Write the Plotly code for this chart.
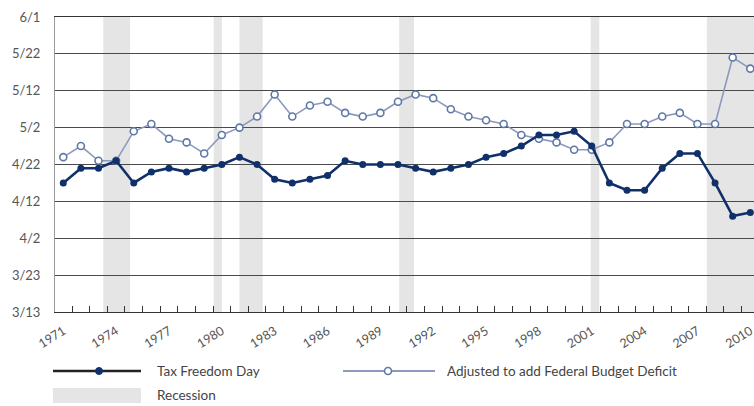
import plotly.graph_objects as go

# ---------------- data ----------------
years = list(range(1971, 2011))

tax_freedom_day = [
    "4/17", "4/21", "4/21", "4/23", "4/17", "4/20", "4/21", "4/20", "4/21", "4/22",
    "4/24", "4/22", "4/18", "4/17", "4/18", "4/19", "4/23", "4/22", "4/22", "4/22",
    "4/21", "4/20", "4/21", "4/22", "4/24", "4/25", "4/27", "4/30", "4/30", "5/1",
    "4/27", "4/17", "4/15", "4/15", "4/21", "4/25", "4/25", "4/17", "4/8", "4/9",
]

adjusted_deficit = [
    "4/24", "4/27", "4/23", "4/23", "5/1", "5/3", "4/29", "4/28", "4/25", "4/30",
    "5/2", "5/5", "5/11", "5/5", "5/8", "5/9", "5/6", "5/5", "5/6", "5/9",
    "5/11", "5/10", "5/7", "5/5", "5/4", "5/3", "4/30", "4/29", "4/28", "4/26",
    "4/26", "4/28", "5/3", "5/3", "5/5", "5/6", "5/3", "5/3", "5/21", "5/18",
]

y_tick_labels = ["3/13", "3/23", "4/2", "4/12", "4/22", "5/2", "5/12", "5/22", "6/1"]
x_tick_years = years[::3]

recession_start = [1973.27, 1979.54, 1981.0, 1990.07, 2000.94, 2007.53]
recession_end = [1974.79, 1980.0, 1982.32, 1990.91, 2001.43, 2010.5]

series_names = ["Tax Freedom Day", "Adjusted to add Federal Budget Deficit", "Recession"]

BASE_YEAR = 2011


def to_date(md):
    m, d = md.split("/")
    return f"{BASE_YEAR}-{int(m):02d}-{int(d):02d}"


# ---------------- style ----------------
W, H = 754, 406
ML, MR, MT, MB = 55, 0, 17, 94
PW, PH = W - ML - MR, H - MT - MB

DARK = "#10306a"
LIGHT_LINE = "#8d99bd"
LIGHT_EDGE = "#5f78a8"
BAND = "#e5e5e5"
FONT = "Lato"
LEG_FONT = dict(family=FONT, size=13.5, color="#444")


def px(x):
    return (x - ML) / PW


def py(y):
    return (MT + PH - y) / PH


fig = go.Figure()

fig.add_trace(go.Scatter(
    x=years, y=[to_date(v) for v in adjusted_deficit],
    mode="lines+markers", name=series_names[1],
    line=dict(color=LIGHT_LINE, width=1.6),
    marker=dict(symbol="circle", size=7, color="white",
                line=dict(color=LIGHT_EDGE, width=1.6)),
    showlegend=False, cliponaxis=False,
))
fig.add_trace(go.Scatter(
    x=years, y=[to_date(v) for v in tax_freedom_day],
    mode="lines+markers", name=series_names[0],
    line=dict(color=DARK, width=2.6),
    marker=dict(symbol="circle", size=7, color=DARK),
    showlegend=False, cliponaxis=False,
))

shapes = []
for s, e in zip(recession_start, recession_end):
    shapes.append(dict(type="rect", xref="x", yref="paper", x0=s, x1=e, y0=0, y1=1,
                       fillcolor=BAND, line=dict(width=0), layer="below"))

# custom legend
ly1 = 371
shapes.append(dict(type="line", xref="paper", yref="paper",
                   x0=px(53), x1=px(141), y0=py(ly1), y1=py(ly1),
                   line=dict(color="#222", width=2.5)))
shapes.append(dict(type="circle", xref="paper", yref="paper",
                   xsizemode="pixel", ysizemode="pixel",
                   xanchor=px(99), yanchor=py(ly1), x0=-3.5, x1=3.5, y0=-3.5, y1=3.5,
                   fillcolor=DARK, line=dict(color=DARK, width=1)))
shapes.append(dict(type="line", xref="paper", yref="paper",
                   x0=px(343), x1=px(435), y0=py(ly1), y1=py(ly1),
                   line=dict(color=LIGHT_LINE, width=1.8)))
shapes.append(dict(type="circle", xref="paper", yref="paper",
                   xsizemode="pixel", ysizemode="pixel",
                   xanchor=px(388), yanchor=py(ly1), x0=-3.5, x1=3.5, y0=-3.5, y1=3.5,
                   fillcolor="white", line=dict(color=LIGHT_EDGE, width=1.6)))
shapes.append(dict(type="rect", xref="paper", yref="paper",
                   x0=px(53), x1=px(141), y0=py(403), y1=py(388),
                   fillcolor=BAND, line=dict(width=0)))

annotations = [
    dict(text=series_names[0], x=px(155), y=py(ly1), xref="paper", yref="paper",
         xanchor="left", yanchor="middle", showarrow=False, font=LEG_FONT),
    dict(text=series_names[1], x=px(445), y=py(ly1), xref="paper", yref="paper",
         xanchor="left", yanchor="middle", showarrow=False, font=LEG_FONT),
    dict(text=series_names[2], x=px(155), y=py(395), xref="paper", yref="paper",
         xanchor="left", yanchor="middle", showarrow=False, font=LEG_FONT),
]

fig.update_layout(
    width=W, height=H,
    margin=dict(l=ML, r=MR, t=MT, b=MB, pad=0, autoexpand=False),
    paper_bgcolor="white", plot_bgcolor="white",
    font=dict(family=FONT, size=12, color="#555"),
    shapes=shapes, annotations=annotations,
    showlegend=False,
    xaxis=dict(
        range=[1970.53, 2010.21], automargin=False,
        tickmode="array", tickvals=x_tick_years, ticktext=[str(y) for y in x_tick_years],
        tickangle=-32, ticks="", showgrid=False, zeroline=False,
        ticklabeloverflow="allow", ticklabelstandoff=6,
        tickfont=dict(family=FONT, size=12.5, color="#555"),
        showline=True, linecolor="#333", linewidth=1, mirror=True,
        minor=dict(tickmode="array", tickvals=[y + 0.5 for y in years[:-1]],
                   ticks="inside", ticklen=6, tickwidth=1, tickcolor="#333",
                   showgrid=False),
    ),
    yaxis=dict(
        type="date", automargin=False,
        range=[to_date(y_tick_labels[0]), to_date(y_tick_labels[-1])],
        tickmode="array", tickvals=[to_date(v) for v in y_tick_labels],
        ticktext=y_tick_labels,
        showgrid=True, gridcolor="#4a4a4a", gridwidth=1,
        showline=True, linecolor="#9a9a9a", linewidth=1,
        ticks="", ticklabelstandoff=11, zeroline=False,
        tickfont=dict(family=FONT, size=13, color="#555"),
    ),
)

fig.write_html(
    "out.html",
    config={"displayModeBar": False},
    post_script="document.body.style.margin='0';document.body.style.overflow='hidden';",
)
